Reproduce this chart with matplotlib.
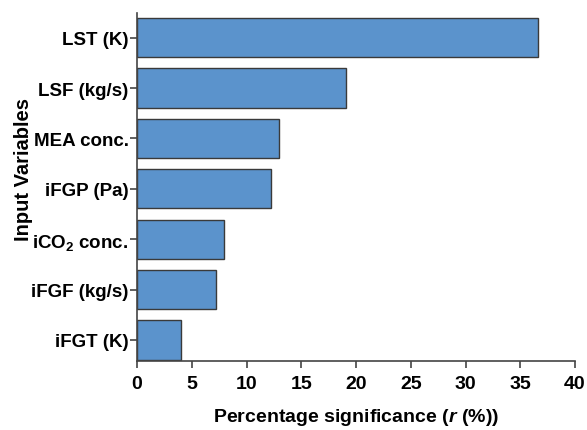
import numpy as np
import matplotlib.pyplot as plt

plt.rcParams['font.family'] = 'Liberation Sans'
plt.rcParams['font.weight'] = 'bold'
plt.rcParams['axes.labelweight'] = 'bold'
plt.rcParams['mathtext.fontset'] = 'custom'
plt.rcParams['mathtext.rm'] = 'Liberation Sans:bold'
plt.rcParams['mathtext.it'] = 'Liberation Sans:bold:italic'
plt.rcParams['mathtext.bf'] = 'Liberation Sans:bold'

# input variables and their percentage significance
variables = ['LST (K)', 'LSF (kg/s)', 'MEA conc.', 'iFGP (Pa)',
             r'iCO$_2$ conc.', 'iFGF (kg/s)', 'iFGT (K)']
significance = [36.6, 19.1, 13.0, 12.2, 7.9, 7.2, 4.0]
xticks = [0, 5, 10, 15, 20, 25, 30, 35, 40]

fig = plt.figure(figsize=(5.87, 4.31), dpi=100)
ax = fig.add_axes([0.2334, 0.160, 0.7462, 0.8075])

ypos = np.arange(len(variables))
ax.barh(ypos, significance, height=0.78, color='#5b93cc',
        edgecolor='#3a3a3a', linewidth=1.0)
ax.set_yticks(ypos)
ax.set_yticklabels(variables, fontsize=13.5)
ax.set_ylim(len(variables) - 1 + 0.42, -0.49)
ax.set_xlim(0, 40)
ax.set_xticks(xticks)
ax.tick_params(axis='x', labelsize=14, length=5, width=1.2, color='#444444', pad=5)
ax.tick_params(axis='y', length=5, width=1.2, color='#444444', pad=1)

for s in ['top', 'right']:
    ax.spines[s].set_visible(False)
for s in ['left', 'bottom']:
    ax.spines[s].set_linewidth(1.2)
    ax.spines[s].set_color('#444444')

ax.set_xlabel(r'Percentage significance ($r$ (%))', fontsize=14, labelpad=10)
ax.set_ylabel('Input Variables', fontsize=14.5)
ax.yaxis.set_label_coords(-0.237, 0.552)

fig.savefig('out.png', dpi=100)
